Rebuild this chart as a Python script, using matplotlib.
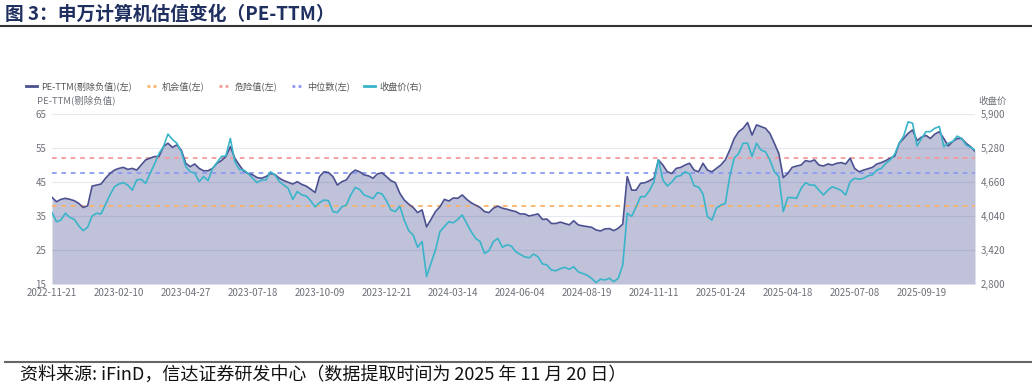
import numpy as np
import matplotlib
matplotlib.use('Agg')
import matplotlib.pyplot as plt
from matplotlib.lines import Line2D
from matplotlib.ticker import FuncFormatter

plt.rcParams['font.family'] = ['Noto Sans CJK SC', 'DejaVu Sans']

title = '图 3：申万计算机估值变化（PE-TTM）'
source = '资料来源: iFinD，信达证券研发中心（数据提取时间为 2025 年 11 月 20 日）'

x_labels = ['2022-11-21', '2023-02-10', '2023-04-27', '2023-07-18', '2023-10-09',
            '2023-12-21', '2024-03-14', '2024-06-04', '2024-08-19', '2024-11-11',
            '2025-01-24', '2025-04-18', '2025-07-08', '2025-09-19']

pe = [40.5, 39.2, 39.9, 40.2, 39.9, 39.5, 38.7, 37.5, 38.0, 43.8,
      44.1, 44.4, 46.1, 47.5, 48.5, 49.0, 49.3, 48.7, 49.0, 48.5,
      50.0, 51.5, 52.0, 52.5, 52.5, 55.4, 56.4, 55.2, 55.9, 54.4,
      50.5, 49.5, 50.3, 49.0, 48.3, 48.3, 49.0, 50.5, 51.3, 52.5,
      55.4, 52.0, 50.0, 48.2, 47.5, 47.1, 46.3, 46.1, 46.6, 47.5,
      47.2, 46.1, 45.4, 44.9, 44.4, 45.1, 44.3, 43.8, 42.9, 41.9,
      46.6, 48.0, 47.8, 46.6, 44.1, 45.1, 45.6, 47.5, 48.5, 48.0,
      47.1, 46.8, 46.1, 47.4, 47.7, 46.6, 45.4, 44.8, 41.7, 39.7,
      38.5, 37.5, 36.0, 36.8, 31.8, 34.0, 36.3, 37.7, 39.9, 39.4,
      40.3, 40.2, 41.2, 39.9, 38.9, 38.2, 37.5, 36.3, 36.0, 37.3,
      37.9, 37.3, 37.0, 36.6, 36.3, 35.6, 35.6, 35.0, 35.3, 35.6,
      34.0, 34.1, 32.8, 32.8, 33.2, 32.8, 32.4, 33.6, 32.4, 32.1,
      31.9, 31.7, 30.9, 30.6, 31.2, 31.3, 30.7, 31.4, 32.6, 46.6,
      42.6, 42.6, 44.6, 44.8, 45.4, 46.1, 51.5, 50.0, 48.0, 47.5,
      49.0, 49.3, 50.0, 50.5, 48.5, 48.0, 50.5, 48.5, 48.0, 49.0,
      50.0, 51.5, 54.4, 57.8, 59.8, 60.8, 62.5, 58.8, 61.8, 61.3,
      60.8, 59.3, 56.4, 53.4, 46.3, 47.5, 49.3, 49.7, 50.0, 51.3,
      51.0, 51.5, 50.0, 49.7, 50.3, 50.0, 50.5, 50.7, 50.3, 52.0,
      49.0, 48.0, 48.5, 48.9, 49.3, 50.3, 50.7, 51.3, 52.0, 52.6,
      56.4, 57.8, 59.3, 60.3, 57.2, 58.2, 58.7, 57.8, 59.1, 59.8,
      57.8, 55.6, 56.9, 57.8, 57.8, 56.4, 55.4, 54.0]

price = [4102, 3935, 3966, 4090, 4015, 3978, 3860, 3773, 3835, 4040,
         4090, 4077, 4251, 4424, 4573, 4623, 4648, 4604, 4511, 4697,
         4710, 4635, 4815, 4989, 5181, 5305, 5534, 5435, 5367, 5212,
         4939, 4846, 4827, 4666, 4759, 4685, 4908, 5013, 5125, 5137,
         5454, 5032, 4889, 4877, 4815, 4728, 4648, 4697, 4697, 4846,
         4790, 4666, 4604, 4542, 4344, 4486, 4424, 4406, 4319, 4207,
         4282, 4331, 4319, 4121, 4102, 4207, 4238, 4424, 4561, 4524,
         4424, 4393, 4356, 4468, 4443, 4319, 4152, 4121, 4220, 3966,
         3773, 3693, 3470, 3575, 2936, 3178, 3420, 3755, 3848, 3935,
         3916, 3978, 4059, 3904, 3755, 3631, 3575, 3358, 3408, 3575,
         3631, 3470, 3513, 3494, 3389, 3339, 3296, 3277, 3346, 3296,
         3166, 3147, 3054, 3042, 3079, 3104, 3067, 3116, 3023, 2992,
         2961, 2905, 2825, 2887, 2874, 2905, 2843, 2905, 3147, 4090,
         4034, 4207, 4393, 4393, 4505, 4666, 5063, 4697, 4586, 4660,
         4759, 4778, 4846, 4809, 4592, 4567, 4443, 4028, 3966, 4183,
         4238, 4269, 4759, 5094, 5181, 5367, 5367, 5125, 5367, 5243,
         5212, 5063, 4846, 4759, 4121, 4375, 4375, 4362, 4542, 4648,
         4604, 4604, 4511, 4424, 4511, 4573, 4542, 4505, 4424, 4666,
         4728, 4710, 4728, 4772, 4790, 4877, 4908, 5001, 5063, 5168,
         5367, 5497, 5757, 5733, 5317, 5454, 5578, 5578, 5640, 5671,
         5305, 5367, 5398, 5497, 5454, 5336, 5292, 5243]

opportunity = 37.8
danger = 52.2
median = 47.7

left_ticks = [15, 25, 35, 45, 55, 65]
right_ticks = [2800, 3420, 4040, 4660, 5280, 5900]

legend_labels = ['PE-TTM(剔除负值)(左)', '机会值(左)', '危险值(左)', '中位数(左)', '收盘价(右)']

W, H = 1032, 389
c_pe = '#4b5090'
c_price = '#3ab4c9'
c_opp = '#f8b26a'
c_danger = '#f59a9a'
c_median = '#8c9bf3'
tick_color = '#6e7079'

fig = plt.figure(figsize=(W / 100, H / 100), dpi=100)
fig.patch.set_facecolor('white')
ax = fig.add_axes([52 / W, (H - 284) / H, 923 / W, 170 / H])
x = np.arange(len(pe))

ax.fill_between(x, pe, 15, color='#4b5094', alpha=0.35, lw=0, zorder=2)
ax.plot(x, pe, color=c_pe, lw=1.2, zorder=4)
for val, col in [(opportunity, c_opp), (danger, c_danger), (median, c_median)]:
    ax.axhline(val, color=col, lw=1.3, ls=(0, (2.6, 2.6)), zorder=3)

ax.set_ylim(15, 65)
ax.set_xlim(0, len(pe) - 1)
ax.set_yticks(left_ticks)
ax.set_xticks(np.arange(0, len(pe), 15)[:len(x_labels)])
ax.set_xticklabels(x_labels)
ax.grid(axis='y', color='#e6e9f0', lw=0.8, zorder=0)
ax.set_axisbelow(True)
ax.tick_params(axis='both', length=0, colors=tick_color, labelsize=7)
ax.tick_params(axis='x', pad=3)
ax.tick_params(axis='y', pad=4)
for s in ax.spines.values():
    s.set_visible(False)

ax2 = ax.twinx()
ax2.plot(x, price, color=c_price, lw=1.2, zorder=5)
ax2.set_ylim(2800, 5900)
ax2.set_yticks(right_ticks)
ax2.yaxis.set_major_formatter(FuncFormatter(lambda v, p: f'{int(v):,}'))
ax2.tick_params(axis='y', length=0, colors=tick_color, labelsize=7, pad=4)
for s in ax2.spines.values():
    s.set_visible(False)

# axis titles
fig.text(37 / W, 1 - 101 / H, 'PE-TTM(剔除负值)', fontsize=6.8, color=tick_color, va='center', ha='left')
fig.text(978 / W, 1 - 101 / H, '收盘价', fontsize=6.8, color=tick_color, va='center', ha='left')

# legend
handles = [Line2D([], [], color=c_pe, lw=2),
           Line2D([], [], color=c_opp, lw=2, ls=(0, (1, 1.2))),
           Line2D([], [], color=c_danger, lw=2, ls=(0, (1, 1.2))),
           Line2D([], [], color=c_median, lw=2, ls=(0, (1, 1.2))),
           Line2D([], [], color=c_price, lw=2)]
leg = fig.legend(handles, legend_labels, ncol=5, loc='center left',
                 bbox_to_anchor=(26 / W, 1 - 86 / H), frameon=False,
                 fontsize=6.6, handlelength=1.2, handletextpad=0.45,
                 columnspacing=1.6, borderaxespad=0, borderpad=0)
for t in leg.get_texts():
    t.set_color('#555555')

# title and rules
fig.text(5 / W, 1 - 14 / H, title, fontsize=13.5, fontweight='bold', color='#1f2f5f',
         va='center', ha='left')
fig.add_artist(Line2D([0, 1], [1 - 25.5 / H] * 2, transform=fig.transFigure, color='#333333', lw=1.5))
fig.add_artist(Line2D([5 / W, 1], [1 - 362 / H] * 2, transform=fig.transFigure, color='#666666', lw=1.5))
fig.text(20 / W, 1 - 375 / H, source, fontsize=13, color='#111111', va='center', ha='left',
         fontstyle='italic')

fig.savefig('out.png', dpi=100, facecolor='white')
